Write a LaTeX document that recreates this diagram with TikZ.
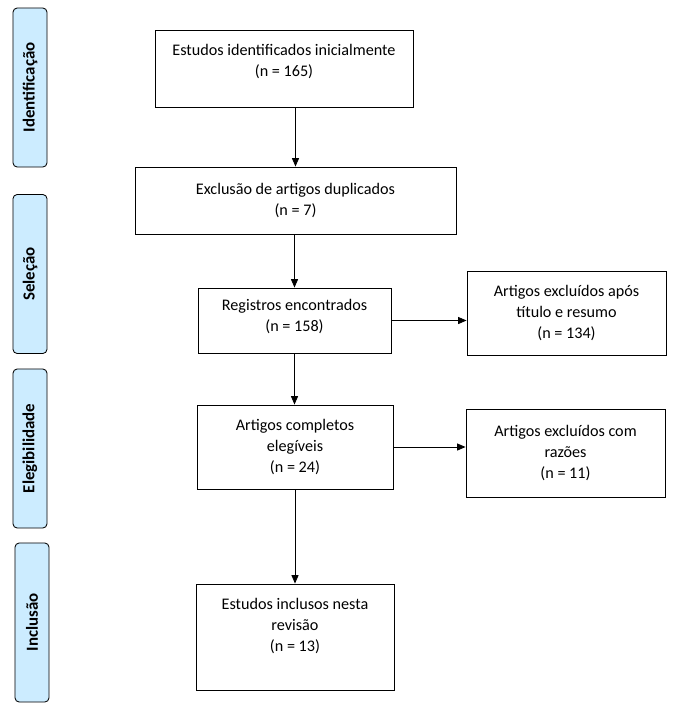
\documentclass[tikz,border=0pt]{standalone}
\usepackage{fontspec}
\setmainfont{Carlito}
\usepackage{tikz}
\usetikzlibrary{calc, positioning, arrows.meta}
\definecolor{tabblue}{RGB}{204,236,255}

\begin{document}
\begin{tikzpicture}
[
    x = 0.025cm, y = -0.025cm,
    every node/.style = {align=center, font=\fontsize{11.5}{15}\selectfont},
    ArrowStyle/.style = {line width=0.6pt, -{Triangle[length=6pt, width=5pt]}}
  ]

  \tikzset{BoxStyle/.style = {draw, rectangle,
                              line width   = 0.6pt,
                              inner sep    = 2pt}}
  \tikzset{TabStyle/.style = {draw, rectangle, rotate=90,
                              rounded corners = 3pt,
                              fill         = tabblue,
                              line width   = 0.6pt,
                              minimum width  = 3.975cm,
                              minimum height = 0.85cm,
                              font = \fontsize{12}{14}\selectfont\bfseries}}

  \useasboundingbox (0,0) rectangle (684,712);

  % side tabs
  \node[TabStyle] (tabid)  at (30,87.5)  {Identificação};
  \node[TabStyle] (tabsel) at (30,274)   {Seleção};
  \node[TabStyle] (tabeleg) at (30,448.5) {Elegibilidade};
  \node[TabStyle] (tabinc) at (32,622.5) {Inclusão};

  % main column
  \node[BoxStyle, minimum width=6.45cm, minimum height=1.925cm, text depth=11.5pt]
      (b1) at (284,68.5) {Estudos identificados inicialmente\\(n = 165)};
  \node[BoxStyle, minimum width=8.025cm, minimum height=1.675cm]
      (b2) at (295.5,200.5) {Exclusão de artigos duplicados\\(n = 7)};
  \node[BoxStyle, minimum width=4.825cm, minimum height=1.625cm, text depth=7pt]
      (b3) at (294.5,320.5) {Registros encontrados\\(n = 158)};
  \node[BoxStyle, minimum width=4.9cm, minimum height=2.1cm]
      (b5) at (295,447) {Artigos completos\\elegíveis\\(n = 24)};
  \node[BoxStyle, minimum width=4.95cm, minimum height=2.65cm, text depth=17pt]
      (b7) at (295,637) {Estudos inclusos nesta\\revisão\\(n = 13)};

  % excluded
  \node[BoxStyle, minimum width=4.975cm, minimum height=2.1cm]
      (b4) at (566.5,313) {Artigos excluídos após\\título e resumo\\(n = 134)};
  \node[BoxStyle, minimum width=4.975cm, minimum height=2.2cm]
      (b6) at (565.5,453) {Artigos excluídos com\\razões\\(n = 11)};

  \draw[ArrowStyle] (b1.south -| b2) -- (b2.north);
  \draw[ArrowStyle] (b2.south -| b3) -- (b3.north);
  \draw[ArrowStyle] (b3.south) -- (b3.south |- b5.north);
  \draw[ArrowStyle] (b3.east) -- (b3.east -| b4.west);
  \draw[ArrowStyle] (b5.east) -- (b5.east -| b6.west);
  \draw[ArrowStyle] (b5.south) -- (b7.north);
\end{tikzpicture}
\end{document}
